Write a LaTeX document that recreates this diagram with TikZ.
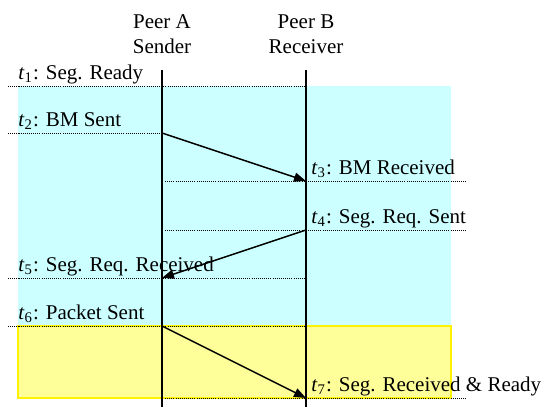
\documentclass[tikz,border=0pt]{standalone}
\usepackage{fontspec}
\setmainfont{Liberation Serif}
\usetikzlibrary{arrows.meta}
\definecolor{lightcyan}{RGB}{204,255,255}
\definecolor{paleyellow}{RGB}{255,255,153}
\newcommand{\tlab}[1]{\textit{t}\textsubscript{#1}}
\begin{document}
\begin{tikzpicture}[x=0.5pt,y=-0.5pt,
    font=\fontsize{10.5}{12.6}\selectfont,
    timeline/.style={dash pattern=on 0.5pt off 0.55pt,line width=0.5pt},
    peerline/.style={line width=0.75pt},
    msg/.style={line width=0.75pt,-{Triangle[length=6pt,width=4.5pt]}},
    tlabel/.style={anchor=base west,inner sep=0pt,yshift=3.3pt},
    peer/.style={align=center,anchor=north,inner sep=0pt}]
    \useasboundingbox (0,0) rectangle (547,407);

    \fill[lightcyan] (18,86) rectangle (451,326); %cyan area
    \filldraw[fill=paleyellow,draw=yellow,line width=0.6pt] (18,326) rectangle (451,398); %yellow area

    \coordinate (A) at (162,70); %Peer A
    \coordinate (Aend) at (162,407);
    \coordinate (B) at (306,70); %Peer B
    \coordinate (Bend) at (306,407);

    \foreach \y/\xa/\xb in {86/8/306,133/8/162,181/165/466,230/165/466,278/8/306,326/8/306,398/165/466}
        \draw[timeline] (\xa,\y) -- (\xb,\y); %dotted time lines

    \draw[peerline] (A) -- (Aend);
    \draw[peerline] (B) -- (Bend);

    \node[peer] (pa) at (162,14) {Peer A\\Sender};
    \node[peer] (pb) at (306,14) {Peer B\\Receiver};

    \coordinate (s2) at (162,133);
    \coordinate (r3) at (306,181);
    \coordinate (s4) at (306,230);
    \coordinate (r5) at (162,278);
    \coordinate (s6) at (162,326);
    \coordinate (r7) at (306,398);
    \draw[msg] (s2) -- (r3);
    \draw[msg] (s4) -- (r5);
    \draw[msg] (s6) -- (r7);

    \node[tlabel] (l1) at (18,86) {\tlab{1}: Seg. Ready};
    \node[tlabel] (l2) at (18,133) {\tlab{2}: BM Sent};
    \node[tlabel] (l3) at (311,181) {\tlab{3}: BM Received};
    \node[tlabel] (l4) at (311,230) {\tlab{4}: Seg. Req. Sent};
    \node[tlabel] (l5) at (18,278) {\tlab{5}: Seg. Req. Received};
    \node[tlabel] (l6) at (18,326) {\tlab{6}: Packet Sent};
    \node[tlabel] (l7) at (311,398) {\tlab{7}: Seg. Received \& Ready};
\end{tikzpicture}
\end{document}
